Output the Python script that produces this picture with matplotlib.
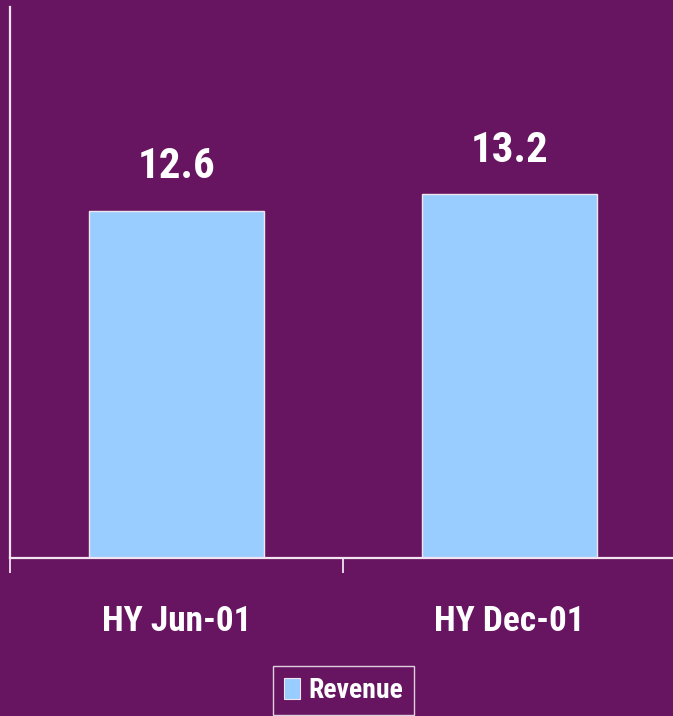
import matplotlib
matplotlib.use("Agg")
import matplotlib.pyplot as plt
from matplotlib.patches import Patch
from matplotlib import font_manager as fm

categories = ["HY Jun-01", "HY Dec-01"]
revenue = [12.6, 13.2]
series_name = "Revenue"

BG = "#671560"
BAR = "#99CCFF"

# Prefer a narrow/condensed sans family if one is installed
narrow = None
for f in fm.fontManager.ttflist:
    n = f.name.lower()
    if ("narrow" in n or "condensed" in n) and "mono" not in n and "serif" not in n.replace("sans serif", ""):
        narrow = f.name
        if "liberation" in n or "arial" in n:
            break
if narrow:
    FONT = [narrow, "Liberation Sans", "DejaVu Sans"]
    S = 1.0
else:
    FONT = ["Liberation Sans", "DejaVu Sans"]
    S = 0.86

fig = plt.figure(figsize=(6.73, 7.16), dpi=100)
fig.patch.set_facecolor(BG)
W, H = 673, 716
ax = fig.add_axes([10 / W, (H - 558) / H, 666 / W, (558 - 7) / H])
ax.set_facecolor(BG)

x = list(range(len(categories)))
bars = ax.bar(x, revenue, width=0.525, color=BAR, edgecolor="#F0E6F0", linewidth=1.0, zorder=2)

ax.set_xlim(-0.5, len(categories) - 0.5)
ax.set_ylim(0, 20)

for rect, v in zip(bars, revenue):
    ax.annotate(f"{v:.1f}", (rect.get_x() + rect.get_width() / 2, v),
                xytext=(0, 17), textcoords="offset points", ha="center", va="bottom",
                color="white", fontsize=31 * S, fontweight="bold", family=FONT)

for s in ["top", "right"]:
    ax.spines[s].set_visible(False)
for s in ["left", "bottom"]:
    ax.spines[s].set_color("#F2E4F0")
    ax.spines[s].set_linewidth(1.6)
ax.spines["bottom"].set_zorder(3)

ax.set_yticks([])
ax.set_xticks([i - 0.5 for i in range(len(categories) + 1)])
ax.set_xticklabels([])
ax.tick_params(axis="x", which="major", direction="out", length=10.8, width=1.4, color="#E8D4E6")
ax.set_xticks(x, minor=True)
ax.set_xticklabels(categories, minor=True)
ax.tick_params(axis="x", which="minor", length=0, pad=34, labelcolor="white", labelsize=25.5 * S)
for lbl in ax.get_xticklabels(minor=True):
    lbl.set_fontweight("bold")
    lbl.set_family(FONT)

handle = Patch(facecolor=BAR, edgecolor="#F0E6F0", linewidth=0.8)
leg = fig.legend([handle], [series_name], loc="upper center",
                 bbox_to_anchor=(343.5 / W, 1 - 666 / H),
                 frameon=True, fancybox=False, facecolor=BG, edgecolor="white",
                 handlelength=0.6, handleheight=0.8, handletextpad=0.3,
                 borderpad=0.4, borderaxespad=0,
                 prop={"family": FONT, "weight": "bold", "size": 20 * S})
leg.get_frame().set_linewidth(1.0)
for t in leg.get_texts():
    t.set_color("white")

fig.savefig("out.png", dpi=100, facecolor=BG)
